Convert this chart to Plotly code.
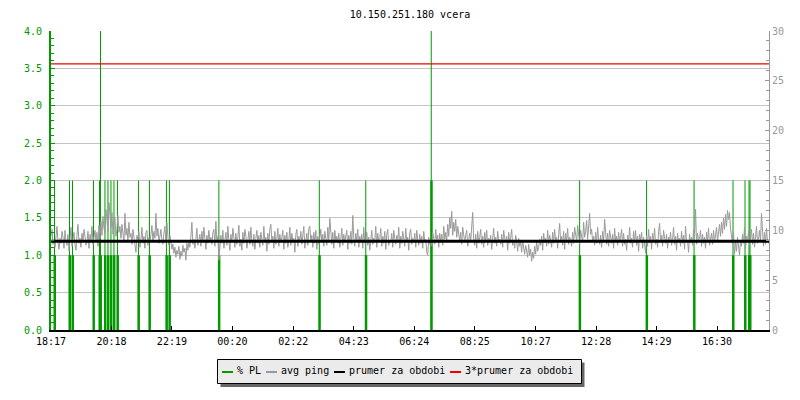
import plotly.graph_objects as go

# ---------------- data ----------------
title_text = "10.150.251.180 vcera"
start_label = "18:17"
tick_labels = ["18:17", "20:18", "22:19", "00:20", "02:22", "04:23",
               "06:24", "08:25", "10:27", "12:28", "14:29", "16:30"]
span_minutes = 1437          # length of the period shown (minutes)
ping_step = 2                # minutes between avg ping samples

# avg ping samples (ms, right axis)
avg_ping = [
    9.4, 10.1, 8.6, 9.0, 8.3, 9.7, 10.4, 8.8, 8.1, 9.2,
    8.7, 9.9, 9.3, 8.2, 10.0, 8.9, 8.5, 9.6, 7.9, 9.1,
    10.3, 8.4, 9.0, 9.8, 8.6, 8.0, 9.5, 10.6, 8.7, 9.2,
    8.3, 9.7, 8.9, 10.1, 9.4, 8.5, 8.8, 9.9, 8.2, 9.6,
    9.0, 10.4, 8.6, 9.3, 10.0, 8.9, 9.8, 8.4, 10.5, 9.1,
    10.9, 9.5, 11.4, 10.2, 9.7, 12.1, 10.6, 9.9, 12.8, 11.0,
    10.3, 11.8, 9.6, 10.7, 11.2, 9.4, 10.1, 11.5, 9.8, 10.4,
    9.2, 10.6, 9.9, 8.8, 11.7, 9.5, 10.2, 9.0, 10.8, 9.3,
    9.7, 8.6, 10.1, 9.2, 8.4, 7.8, 9.5, 8.9, 9.9, 8.3,
    9.1, 10.3, 8.7, 9.4, 8.2, 9.8, 10.0, 8.5, 9.3, 8.8,
    9.6, 10.5, 8.9, 9.9, 9.2, 11.7, 9.4, 10.2, 8.7, 9.8,
    10.1, 9.0, 8.6, 9.7, 10.4, 8.8, 10.8, 9.3, 8.5, 9.5,
    8.9, 8.1, 8.6, 7.7, 8.3, 7.3, 8.0, 7.6, 8.4, 7.1,
    7.9, 7.4, 8.5, 7.8, 8.2, 7.0, 8.7, 8.0, 8.8, 8.3,
    9.4, 10.8, 8.6, 9.1, 8.2, 9.7, 10.2, 8.5, 9.0, 9.6,
    8.4, 9.9, 8.8, 10.3, 9.2, 8.1, 9.5, 8.7, 10.0, 8.9,
    9.3, 8.6, 9.8, 10.1, 8.4, 10.9, 8.8, 9.4, 7.0, 8.3,
    9.5, 8.7, 10.0, 8.2, 9.1, 9.8, 8.5, 10.4, 8.9, 8.0,
    9.6, 8.8, 10.2, 9.0, 8.3, 9.7, 8.6, 9.3, 10.5, 8.4,
    9.1, 8.0, 9.8, 8.7, 10.1, 9.4, 8.2, 9.0, 9.9, 8.6,
    10.3, 8.9, 8.4, 9.6, 8.1, 9.2, 10.0, 8.7, 9.5, 8.3,
    9.8, 9.1, 8.5, 10.4, 8.8, 9.3, 7.9, 9.7, 8.6, 10.1,
    10.6, 8.9, 9.4, 8.2, 9.9, 8.6, 9.1, 10.2, 8.4, 9.6,
    8.8, 9.3, 10.0, 8.1, 9.5, 8.7, 9.8, 8.3, 9.0, 10.3,
    8.5, 9.7, 8.9, 9.2, 7.8, 9.6, 10.1, 8.4, 9.4, 8.8,
    9.9, 8.6, 9.3, 10.4, 8.2, 9.0, 9.7, 8.5, 10.2, 10.4,
    8.9, 9.5, 8.3, 9.8, 8.7, 10.0, 8.1, 9.4, 8.6, 9.2,
    10.1, 8.8, 9.6, 8.4, 9.9, 9.2, 8.5, 10.3, 9.0, 11.2,
    9.3, 8.6, 9.8, 8.2, 10.0, 8.9, 9.4, 8.7, 9.7, 8.3,
    9.1, 10.2, 8.5, 9.6, 8.8, 9.3, 10.0, 8.1, 9.5, 8.7,
    9.9, 8.6, 11.5, 9.2, 8.4, 9.7, 8.9, 10.1, 8.3, 9.4,
    8.8, 9.6, 8.2, 10.3, 8.7, 9.0, 9.8, 8.5, 9.3, 8.0,
    9.5, 10.0, 8.6, 9.2, 8.9, 10.4, 8.3, 9.7, 8.8, 9.1,
    10.2, 8.4, 9.4, 8.7, 9.9, 8.1, 9.6, 10.1, 8.5, 9.0,
    8.9, 9.7, 8.3, 10.0, 9.2, 8.6, 9.5, 8.8, 10.3, 8.2,
    9.4, 8.7, 9.9, 9.1, 8.4, 10.2, 8.9, 9.3, 8.0, 9.8,
    10.1, 8.6, 9.2, 8.8, 9.7, 8.3, 10.0, 9.0, 8.5, 9.6,
    8.7, 9.4, 8.2, 9.9, 8.9, 9.1, 7.8, 7.5, 9.3, 8.6,
    9.0, 8.4, 9.8, 9.2, 8.6, 10.1, 8.9, 9.5, 8.3, 9.7,
    8.8, 9.6, 8.5, 10.4, 9.1, 9.8, 8.9, 10.6, 9.4, 11.3,
    10.2, 11.9, 9.5, 10.8, 9.9, 11.1, 9.3, 10.4, 9.7, 8.9,
    9.8, 8.6, 10.3, 9.1, 8.8, 9.5, 10.0, 8.4, 9.2, 9.7,
    8.9, 10.2, 11.8, 9.0, 8.5, 9.6, 8.2, 9.9, 8.7, 9.3,
    10.1, 8.6, 9.4, 8.3, 9.8, 8.9, 10.0, 8.5, 9.2, 8.8,
    9.5, 8.1, 9.7, 10.2, 8.7, 9.3, 8.4, 9.9, 8.9, 9.1,
    8.6, 9.6, 8.3, 10.0, 9.2, 8.8, 9.4, 8.0, 9.8, 8.7,
    9.3, 10.1, 8.5, 9.0, 8.2, 9.5, 8.9, 7.9, 9.2, 8.4,
    8.8, 7.8, 9.0, 8.3, 7.6, 8.5, 8.0, 7.3, 8.6, 7.5,
    8.1, 6.9, 7.8, 7.2, 8.4, 7.6, 8.9, 7.9, 8.3, 9.1,
    8.5, 9.4, 8.0, 9.7, 8.8, 9.2, 8.4, 10.0, 8.6, 9.5,
    9.0, 8.3, 9.8, 8.7, 10.1, 8.9, 9.3, 8.2, 9.6, 10.7,
    8.8, 9.4, 8.5, 9.9, 8.1, 9.7, 8.9, 10.2, 8.6, 9.3,
    9.1, 8.4, 9.8, 8.7, 10.3, 9.2, 8.9, 10.5, 9.4, 8.6,
    10.0, 9.5, 8.8, 10.8, 9.3, 9.9, 11.0, 9.1, 10.2, 11.7,
    9.6, 10.1, 8.9, 9.4, 8.5, 9.8, 8.7, 10.3, 9.0, 8.6,
    9.5, 8.3, 9.9, 8.8, 11.1, 9.2, 8.6, 9.7, 8.4, 10.0,
    9.0, 8.7, 9.6, 8.2, 10.2, 8.9, 9.4, 8.5, 9.8, 8.8,
    9.3, 10.1, 8.4, 9.7, 8.6, 9.1, 8.0, 9.5, 8.9, 10.3,
    8.7, 9.2, 8.3, 9.9, 8.8, 10.0, 8.5, 9.4, 7.9, 9.6,
    8.9, 9.8, 8.2, 9.3, 8.6, 7.7, 9.5, 8.4, 10.1, 8.8,
    9.4, 8.1, 9.7, 8.9, 10.2, 8.6, 9.1, 8.3, 9.9, 10.7,
    8.8, 9.5, 8.4, 10.0, 9.2, 8.7, 9.6, 8.2, 9.3, 8.9,
    9.8, 8.5, 9.1, 10.3, 8.6, 9.4, 8.0, 9.7, 8.8, 9.2,
    8.4, 9.9, 8.7, 9.5, 8.1, 10.4, 8.9, 9.0, 7.8, 9.6,
    8.8, 9.3, 8.5, 10.1, 9.4, 12.1, 8.6, 9.7, 8.9, 9.2,
    10.0, 8.4, 9.6, 8.7, 9.3, 8.2, 9.8, 8.9, 10.2, 8.5,
    9.1, 9.7, 8.6, 10.0, 8.8, 9.5, 10.3, 8.9, 9.9, 10.6,
    9.4, 10.8, 9.7, 11.2, 10.1, 11.6, 10.4, 12.0, 11.1, 11.8,
    10.2, 9.5, 8.6, 9.8, 7.6, 8.9, 7.9, 9.3, 8.2, 7.5,
    9.0, 8.4, 9.6, 8.7, 10.3, 8.1, 9.4, 8.8, 9.9, 8.5,
    9.2, 10.1, 8.6, 9.7, 8.3, 9.5, 10.4, 8.7, 9.1, 10.0,
    8.9, 11.7, 9.3, 8.4, 9.8, 8.6, 10.2, 8.8, 9.0, 8.5,
]

# packet loss events: minute offset, peak %, shoulder %
pl_time = [7, 37, 43, 85, 97, 99, 108, 114, 120, 126, 133, 175, 197, 231, 237,
           336, 537, 630, 761, 1058, 1192, 1287, 1365, 1389, 1397, 1399]
pl_peak = [2, 2, 2, 2, 2, 4, 2, 2, 2, 2, 2, 2, 2, 2, 2,
           2, 2, 2, 4, 2, 2, 2, 2, 2, 2, 2]
pl_shoulder = [1, 1, 1, 1, 1, 1, 1, 1, 1, 1, 1, 1, 1, 1, 1,
               1, 1, 1, 2, 1, 1, 1, 1, 1, 1, 1]

prumer = 8.9                 # average ping over the period (ms)

legend_labels = ["% PL", "avg ping", "prumer za obdobi", "3*prumer za obdobi"]

# ---------------- styling ----------------
FONT = "DejaVu Sans Mono"
GREEN = "#009900"
PING_GRAY = "#9a9a9a"
AXIS_GRAY = "#999999"
GRID = "#c4c4c4"

OFF = 8                      # page offset of the figure (body margin)
W, H = 800 - OFF, 400 - OFF
L, R, T, B = 51 - OFF, 31, 31 - OFF, 70


def to_min(label):
    h, m = map(int, label.split(":"))
    h0, m0 = map(int, start_label.split(":"))
    return ((h * 60 + m) - (h0 * 60 + m0)) % 1440


tick_vals = [to_min(s) for s in tick_labels]
ping_t = [i * ping_step for i in range(len(avg_ping))]

fig = go.Figure()

# packet-loss shoulders (thick) and peaks (thin)
sx, sy, px_, py_ = [], [], [], []
for t, p, s in zip(pl_time, pl_peak, pl_shoulder):
    sx += [t + 0.5, t + 0.5, None]
    sy += [0, s, None]
    px_ += [t, t, None]
    py_ += [0, p, None]
fig.add_trace(go.Scatter(x=px_, y=py_, mode="lines", yaxis="y",
                         line=dict(color=GREEN, width=1), hoverinfo="skip"))
fig.add_trace(go.Scatter(x=sx, y=sy, mode="lines", yaxis="y",
                         line=dict(color=GREEN, width=2.5), hoverinfo="skip"))

fig.add_trace(go.Scatter(x=ping_t, y=avg_ping, mode="lines", yaxis="y2",
                         line=dict(color=PING_GRAY, width=1)))
fig.add_trace(go.Scatter(x=[0, span_minutes], y=[prumer, prumer], mode="lines",
                         yaxis="y2", line=dict(color="black", width=3)))
fig.add_trace(go.Scatter(x=[0, span_minutes], y=[3 * prumer, 3 * prumer],
                         mode="lines", yaxis="y2",
                         line=dict(color="#ee0000", width=1.3)))

# ---------------- manual legend (page pixel positions) ----------------
pw, ph = W - L - R, H - T - B


def fx(p):
    return (p - OFF - L) / pw


def fy(p):
    return (H - B - (p - OFF)) / ph


shapes = [
    dict(type="rect", xref="paper", yref="paper", x0=fx(220.5), x1=fx(584.5),
         y0=fy(387), y1=fy(362.5), fillcolor="#666666", line=dict(width=0),
         layer="above"),
    dict(type="rect", xref="paper", yref="paper", x0=fx(217.5), x1=fx(581.5),
         y0=fy(383.5), y1=fy(359.5), fillcolor="#ebebeb",
         line=dict(color="black", width=1), layer="above"),
]
leg_colors = [GREEN, PING_GRAY, "black", "#ee0000"]
dash_x = [222, 266, 334, 450]
text_x = [236, 280, 348, 464]
annotations = []
for c, dx, tx, lab in zip(leg_colors, dash_x, text_x, legend_labels):
    shapes.append(dict(type="line", xref="paper", yref="paper",
                       x0=fx(dx), x1=fx(dx + 11), y0=fy(372), y1=fy(372),
                       line=dict(color=c, width=2), layer="above"))
    annotations.append(dict(text=lab, xref="paper", yref="paper", x=fx(tx),
                            y=fy(370.5), xanchor="left", yanchor="middle",
                            showarrow=False, borderpad=0,
                            font=dict(family=FONT, size=10, color="black")))

fig.update_layout(
    width=W, height=H, autosize=False,
    margin=dict(l=L, r=R, t=T, b=B),
    paper_bgcolor="white", plot_bgcolor="white",
    showlegend=False,
    font=dict(family=FONT, size=10, color="black"),
    title=dict(text=title_text, x=0.5, xanchor="center", xref="paper",
               y=1 - (14 - OFF) / H, yanchor="middle", yref="container",
               font=dict(family=FONT, size=10, color="black")),
    xaxis=dict(range=[0, span_minutes], tickvals=tick_vals, ticktext=tick_labels,
               showgrid=False, zeroline=False, showline=True,
               linecolor="black", linewidth=2, ticks="inside", ticklen=4,
               tickcolor="black", tickwidth=1, ticklabelstandoff=1,
               tickfont=dict(family=FONT, size=10, color="black")),
    yaxis=dict(range=[0, 4], dtick=0.5, tickformat=".1f", showgrid=True,
               gridcolor=GRID, gridwidth=1, zeroline=False, showline=True,
               linecolor=GREEN, linewidth=2, ticks="inside", ticklen=4,
               tickcolor=GREEN, tickwidth=1, ticklabelstandoff=5,
               minor=dict(dtick=0.1, ticks="inside", ticklen=3,
                          tickcolor=GREEN, showgrid=False),
               tickfont=dict(family=FONT, size=10, color=GREEN)),
    yaxis2=dict(range=[0, 30], dtick=5, overlaying="y", side="right",
                showgrid=False, zeroline=False, showline=True,
                linecolor=AXIS_GRAY, linewidth=1, ticks="inside", ticklen=4,
                tickcolor=AXIS_GRAY, tickwidth=1,
                minor=dict(dtick=1, ticks="inside", ticklen=3,
                           tickcolor=AXIS_GRAY, showgrid=False),
                tickfont=dict(family=FONT, size=10, color=AXIS_GRAY)),
    shapes=shapes,
    annotations=annotations,
)

fig.write_html("out.html")
